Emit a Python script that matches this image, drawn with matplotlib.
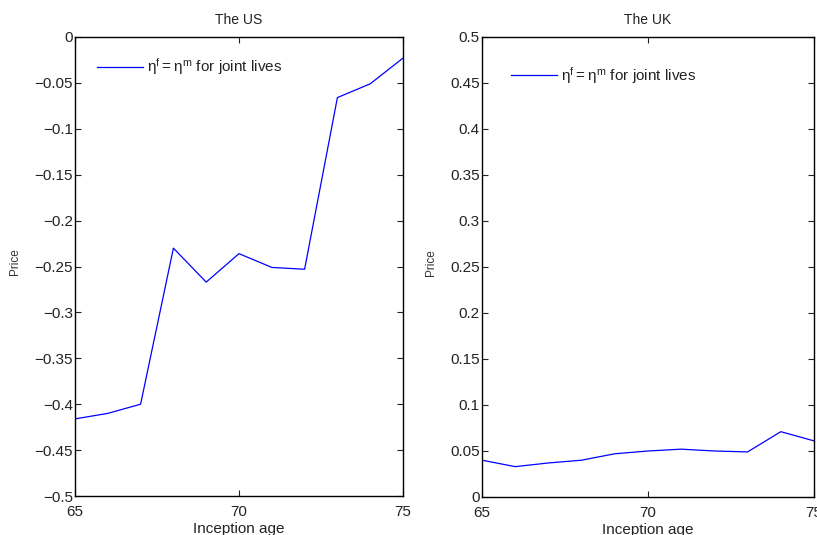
import numpy as np
import matplotlib
matplotlib.use('Agg')
import matplotlib.pyplot as plt

plt.rcParams['font.family'] = ['Liberation Sans', 'DejaVu Sans']
plt.rcParams['font.size'] = 11
plt.rcParams['mathtext.fontset'] = 'custom'
plt.rcParams['mathtext.rm'] = 'Liberation Sans'

# inception ages and prices
ages = [65, 66, 67, 68, 69, 70, 71, 72, 73, 74, 75]
us_price = [-0.416, -0.410, -0.400, -0.230, -0.267, -0.236, -0.251, -0.253, -0.066, -0.051, -0.023]
uk_price = [0.040, 0.033, 0.037, 0.040, 0.047, 0.050, 0.052, 0.050, 0.049, 0.071, 0.061]

us_ticks = [-0.5, -0.45, -0.4, -0.35, -0.3, -0.25, -0.2, -0.15, -0.1, -0.05, 0]
uk_ticks = [0, 0.05, 0.1, 0.15, 0.2, 0.25, 0.3, 0.35, 0.4, 0.45, 0.5]
x_ticks = [65, 70, 75]
label = r'$\mathregular{\eta^f=\eta^m}$ for joint lives'


def fmt(v):
    return ('%g' % v).replace('-', '\u2212')


W, H = 817, 535
fig = plt.figure(figsize=(W / 100, H / 100), dpi=100)


def make_axes(x0, x1, y0, y1):
    return fig.add_axes([x0 / W, 1 - y1 / H, (x1 - x0) / W, (y1 - y0) / H])


def style(ax, yticks, title, leg_xy):
    ax.set_xlim(65, 75)
    ax.set_ylim(yticks[0], yticks[-1])
    ax.set_xticks(x_ticks)
    ax.set_xticklabels([fmt(v) for v in x_ticks])
    ax.set_yticks(yticks)
    ax.set_yticklabels([fmt(v) for v in yticks])
    ax.tick_params(direction='in', top=True, right=True, length=4, width=0.8,
                   labelsize=11, colors='#222222')
    ax.tick_params(axis='y', pad=1.5)
    ax.tick_params(axis='x', pad=6.5)
    for s in ax.spines.values():
        s.set_linewidth(1.0)
    ax.set_title(title, fontsize=10, pad=9, color='#222222')
    ax.set_xlabel('Inception age', fontsize=11, labelpad=2, color='#222222')
    ax.set_ylabel('Price', fontsize=8.5, color='#333333')
    leg = ax.legend(loc='center left', bbox_to_anchor=leg_xy, frameon=False, fontsize=11,
                    borderpad=0, borderaxespad=0, handlelength=3.0, handletextpad=0.3)
    for t in leg.get_texts():
        t.set_color('#222222')


ax1 = make_axes(75, 403, 37, 496)
ax1.plot(ages, us_price, color='#0000ff', lw=0.9, label=label)
style(ax1, us_ticks, 'The US', (0.067, 0.935))
ax1.yaxis.set_label_coords(-0.165, 0.51)

ax2 = make_axes(482, 814, 37, 497)
ax2.plot(ages, uk_price, color='#0000ff', lw=0.9, label=label)
style(ax2, uk_ticks, 'The UK', (0.087, 0.917))
ax2.yaxis.set_label_coords(-0.135, 0.51)

fig.savefig('out.png', dpi=100)
